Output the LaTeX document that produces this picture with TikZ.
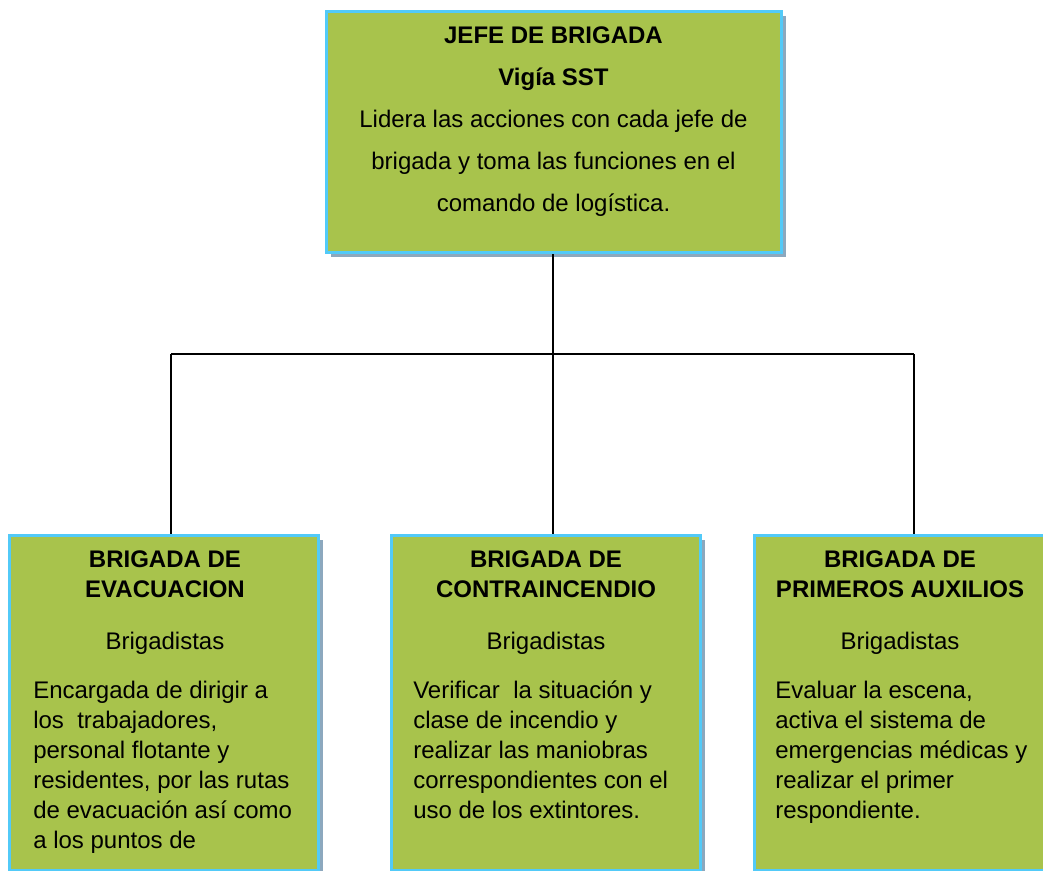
\documentclass[tikz,border=0pt]{standalone}
\usepackage{fontspec}
\setmainfont{Liberation Sans}
\usetikzlibrary{shadows}

\definecolor{boxgreen}{RGB}{168,195,76}
\definecolor{boxblue}{RGB}{82,202,248}
\definecolor{boxshade}{RGB}{140,168,190}

\tikzset{
  brigbox/.style={draw=boxblue, line width=2.25pt, fill=boxgreen, inner sep=0pt,
    general shadow={fill=boxshade, shadow xshift=3.4pt, shadow yshift=-3.4pt}},
  leafbox/.style={brigbox, minimum width=231.75pt, minimum height=250.9pt},
  headtext/.style={font=\bfseries\fontsize{18}{22.5}\selectfont, align=center, inner sep=0pt, anchor=north},
  subtext/.style={font=\fontsize{18}{22.5}\selectfont, inner sep=0pt, anchor=base},
  bodytext/.style={font=\fontsize{18}{22.5}\selectfont, align=left, inner sep=0pt, anchor=north west},
  link/.style={draw=black, line width=1.1pt}
}

\begin{document}
\begin{tikzpicture}[x=0.75pt, y=-0.75pt]
  \useasboundingbox (0,0) rectangle (1043,871);

  %%%%% boxes %%%%%
  \node[brigbox, minimum width=341.25pt, minimum height=180.75pt] (jefe) at (554,132) {};
  \node[leafbox] (evac) at (164,702.75) {};
  \node[leafbox] (contra) at (546.3,702.75) {};
  \node[leafbox] (auxi) at (908.5,702.75) {};

  %%%%% lines %%%%%
  \coordinate (bus) at (553,354);
  \coordinate (busL) at (171,354);
  \coordinate (busR) at (914,354);
  \draw[link] (jefe.south -| bus) -- (bus);
  \draw[link] (busL) -- (busR);
  \draw[link] (busL) -- (busL |- evac.north);
  \draw[link] (bus) -- (bus |- contra.north);
  \draw[link] (busR) -- (busR |- auxi.north);

  %%%%% texts %%%%%
  \node[font=\fontsize{18}{31.5}\selectfont, align=center, inner sep=0pt, anchor=north] (jefeT) at (553.5,26.8)
    {\textbf{JEFE DE BRIGADA}\\\textbf{Vigía SST}\\Lidera las acciones con cada jefe de\\brigada y toma las funciones en el\\comando de logística.};

  \node[headtext] (evacT) at (165,550.8) {BRIGADA DE\\EVACUACION};
  \node[subtext] (evacS) at (165,649) {Brigadistas};
  \node[bodytext] (evacB) at (33,680.8) {Encargada de dirigir a\\los~ trabajadores,\\personal flotante y\\residentes, por las rutas\\de evacuación así como\\a los puntos de};

  \node[headtext] (contraT) at (546,550.8) {BRIGADA DE\\CONTRAINCENDIO};
  \node[subtext] (contraS) at (546,649) {Brigadistas};
  \node[bodytext] (contraB) at (413,680.8) {Verificar~ la situación y\\clase de incendio y\\realizar las maniobras\\correspondientes con el\\uso de los extintores.};

  \node[headtext] (auxiT) at (900,550.8) {BRIGADA DE\\PRIMEROS AUXILIOS};
  \node[subtext] (auxiS) at (900,649) {Brigadistas};
  \node[bodytext] (auxiB) at (775,680.8) {Evaluar la escena,\\activa el sistema de\\emergencias médicas y\\realizar el primer\\respondiente.};
\end{tikzpicture}
\end{document}
